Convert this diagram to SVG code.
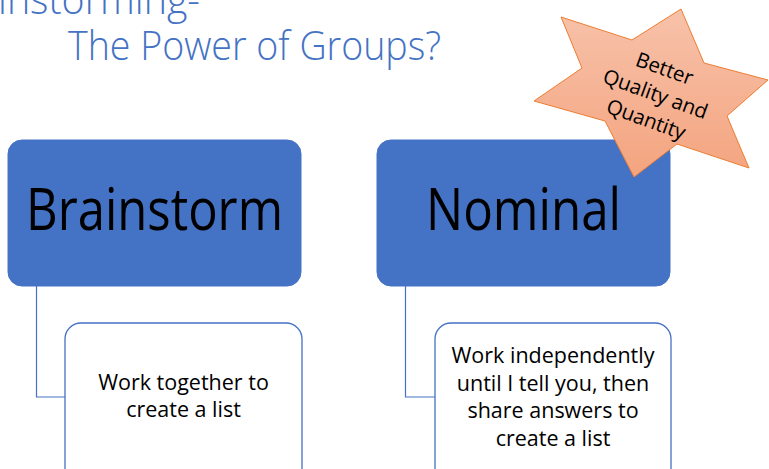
<svg xmlns="http://www.w3.org/2000/svg" width="769" height="469" viewBox="0 0 769 469">
  <defs>
    <linearGradient id="starFill" x1="0" y1="0" x2="0" y2="1">
      <stop offset="0" stop-color="#F7C2AA"/>
      <stop offset="1" stop-color="#F4A47F"/>
    </linearGradient>
  </defs>
  <style>
    .title { font-family: "Open Sans", "Liberation Sans", sans-serif; font-weight: 300; font-size: 40px; fill: #4472C4; }
    .head { fill: #4472C4; stroke: #4472C4; stroke-width: 1; }
    .headText { font-family: "Open Sans", "Liberation Sans", sans-serif; font-size: 59px; fill: #000; text-anchor: middle; }
    .child { fill: #FFFFFF; stroke: #4472C4; stroke-width: 1.3; }
    .childText { font-family: "Open Sans", "Liberation Sans", sans-serif; font-size: 21.5px; fill: #000; text-anchor: middle; }
    .conn { fill: none; stroke: #4472C4; stroke-width: 1.2; }
    .star { fill: url(#starFill); stroke: #ED7D31; stroke-width: 1; }
    .starText { font-family: "Open Sans", "Liberation Sans", sans-serif; font-size: 20.5px; fill: #000; text-anchor: middle; }
  </style>
  <rect width="769" height="469" fill="#FFFFFF"/>

  <g id="title">
    <text class="title" x="-2" y="14" textLength="202" lengthAdjust="spacingAndGlyphs">instorming-</text>
    <text class="title" x="68" y="60" textLength="373" lengthAdjust="spacingAndGlyphs">The Power of Groups?</text>
  </g>

  <g id="connectors">
    <path class="conn" d="M36.5,286 V397 H65"/>
    <path class="conn" d="M405.5,286 V397 H435"/>
  </g>

  <g id="brainstorm">
    <rect class="head" x="8" y="140" width="293" height="146" rx="14"/>
    <text class="headText" x="154.5" y="230" textLength="257" lengthAdjust="spacingAndGlyphs">Brainstorm</text>
  </g>

  <g id="brainstorm-detail">
    <rect class="child" x="65" y="323" width="237" height="175" rx="16"/>
    <text class="childText" x="183.5" y="390">Work together to</text>
    <text class="childText" x="183.5" y="417">create a list</text>
  </g>

  <g id="nominal">
    <rect class="head" x="377" y="140" width="293" height="146" rx="14"/>
    <text class="headText" x="523.5" y="230" textLength="195" lengthAdjust="spacingAndGlyphs">Nominal</text>
  </g>

  <g id="nominal-detail">
    <rect class="child" x="435" y="323" width="236" height="175" rx="16"/>
    <text class="childText" x="553" y="363">Work independently</text>
    <text class="childText" x="553" y="391">until I tell you, then</text>
    <text class="childText" x="553" y="418">share answers to</text>
    <text class="childText" x="553" y="446">create a list</text>
  </g>

  <g id="star">
    <polygon class="star" points="561,17 632,40 681,9 704,63 768,80 727,116 749,168 677,144 634,177 605,121 534,101 582,68"/>
    <g transform="translate(655,95) rotate(20)">
      <text class="starText" x="0" y="-21">Better</text>
      <text class="starText" x="0" y="6">Quality and</text>
      <text class="starText" x="0" y="33">Quantity</text>
    </g>
  </g>
</svg>
